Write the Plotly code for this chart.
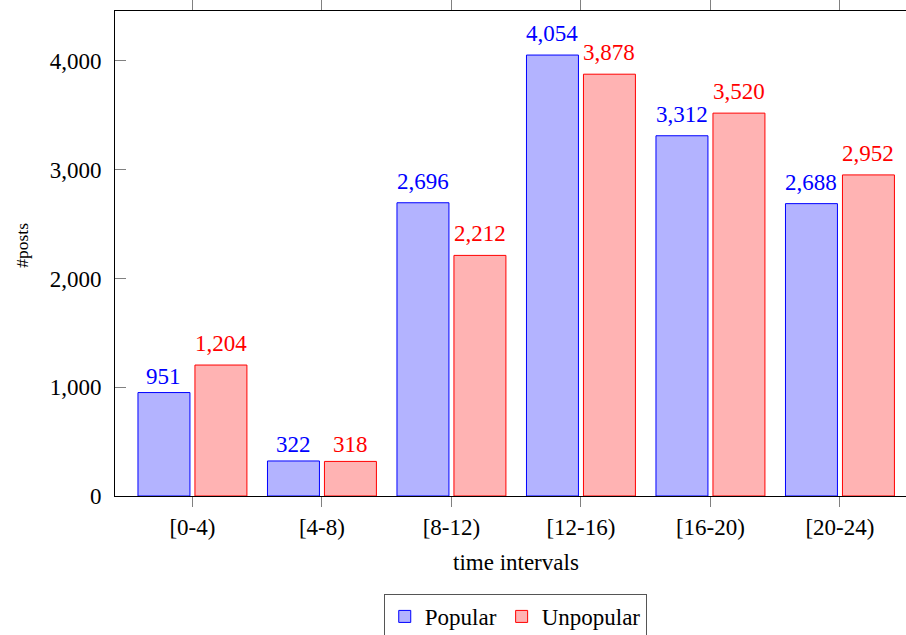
import plotly.graph_objects as go

categories = ["[0-4)", "[4-8)", "[8-12)", "[12-16)", "[16-20)", "[20-24)"]
popular = [951, 322, 2696, 4054, 3312, 2688]
unpopular = [1204, 318, 2212, 3878, 3520, 2952]
y_ticks = [0, 1000, 2000, 3000, 4000]
y_tick_labels = ["0", "1,000", "2,000", "3,000", "4,000"]

FONT = "Liberation Serif"
FS = 23
BLUE = "rgb(0,0,255)"
RED = "rgb(255,0,0)"

fig = go.Figure()
fig.add_trace(go.Bar(
    x=categories, y=popular, name="Popular",
    marker=dict(color="rgb(179,179,255)", line=dict(color=BLUE, width=1)),
))
fig.add_trace(go.Bar(
    x=categories, y=unpopular, name="Unpopular",
    marker=dict(color="rgb(255,179,179)", line=dict(color=RED, width=1)),
))

BARGAP = 0.12
cat_px = 129.5
offset = cat_px * (1 - BARGAP) / 4  # half of one bar slot

annotations = []
for vals, sign, col in ((popular, -1, BLUE), (unpopular, 1, RED)):
    for c, v in zip(categories, vals):
        label = f"{v:,}"
        annotations.append(dict(
            text=label, x=c, y=v, xref="x", yref="y",
            xanchor="center", yanchor="bottom", showarrow=False,
            xshift=sign * offset, yshift=7 if "," in label else 2,
            font=dict(family=FONT, size=FS, color=col),
        ))

annotations += [
    dict(text="time intervals", xref="paper", yref="paper", x=0.507, y=-0.138,
         xanchor="center", yanchor="middle", showarrow=False,
         font=dict(family=FONT, size=FS)),
    dict(text="#posts", xref="paper", yref="paper", x=-0.1176, y=0.518,
         xanchor="center", yanchor="middle", showarrow=False, textangle=-90,
         font=dict(family=FONT, size=17.5)),
]

fig.update_layout(
    width=906, height=635,
    margin=dict(l=115, r=0, t=11, b=139, autoexpand=False),
    paper_bgcolor="white", plot_bgcolor="white",
    font=dict(family=FONT, size=FS, color="black"),
    barmode="group", bargap=BARGAP, bargroupgap=0.088,
    showlegend=True,
    legend=dict(
        orientation="h", x=0.506, xanchor="center", y=-0.202, yanchor="top",
        bordercolor="#555555", borderwidth=1, bgcolor="white",
        font=dict(family=FONT, size=FS), itemwidth=30,
    ),
    xaxis=dict(
        type="category", range=[-0.598, 5.51],
        showline=True, linecolor="black", linewidth=1, mirror="ticks",
        ticks="outside", ticklen=10, tickcolor="#808080", tickwidth=1,
        showgrid=False, zeroline=False,
        tickfont=dict(family=FONT, size=FS),
    ),
    yaxis=dict(
        range=[0, 4459], tickvals=y_ticks, ticktext=y_tick_labels,
        showline=True, linecolor="black", linewidth=1, mirror=False,
        ticks="inside", ticklen=11, tickcolor="#808080", tickwidth=1,
        showgrid=False, zeroline=False, ticklabelstandoff=8,
        tickfont=dict(family=FONT, size=FS),
    ),
    annotations=annotations,
)

fig.write_html(
    "out.html",
    config={"displayModeBar": False},
    post_script="document.body.style.margin='0';document.body.style.overflow='hidden';",
)
